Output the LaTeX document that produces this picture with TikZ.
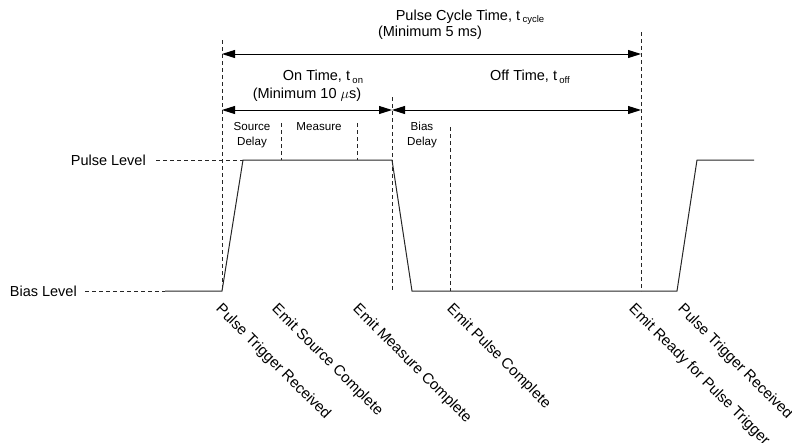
\documentclass[tikz,border=0pt]{standalone}
\usepackage{fontspec}
\setmainfont{Liberation Sans}
\usetikzlibrary{arrows.meta}
\begin{document}
\begin{tikzpicture}[x=1pt,y=-1pt,
 dsh/.style={draw=black!85, line width=0.7pt, dash pattern=on 4pt off 3pt},
 sig/.style={draw=black!85, line width=1pt},
 dimline/.style={draw=black, line width=0.9pt, {Triangle[length=13pt,width=8pt]}-{Triangle[length=13pt,width=8pt]}},
 lbl/.style={font=\fontsize{14.5}{17}\selectfont, inner sep=0pt},
 sm/.style={font=\fontsize{11.6}{15.5}\selectfont, inner sep=0pt, align=center},
 rot/.style={font=\fontsize{15}{17}\selectfont, inner sep=0pt, rotate=-45, anchor=north west}]
\useasboundingbox (0,0) rectangle (792,442);
\newcommand{\mysub}[1]{\,\raisebox{-2.5pt}{\fontsize{9.5}{10}\selectfont #1}}
% titles
\node[lbl] (cyc) at (470,17) {Pulse Cycle Time, t\mysub{cycle}};
\node[lbl] (cycmin) at (430,33) {(Minimum 5 ms)};
\node[lbl] (on) at (323,77) {On Time, t\mysub{on}};
\node[lbl] (onmin) at (307,95) {(Minimum 10 $\mu$s)};
\node[lbl] (off) at (530,77) {Off Time, t\mysub{off}};
\node[sm] (sd) at (252,135) {Source\\Delay};
\node[sm] (ms) at (319,127) {Measure};
\node[sm] (bd) at (422,135) {Bias\\Delay};
% level labels
\node[lbl, anchor=east] (pl) at (146,160) {Pulse Level};
\node[lbl, anchor=east] (bl) at (77,291) {Bias Level};
% coordinates
\coordinate (a1) at (222,40); \coordinate (a2) at (222,291);
\coordinate (b1) at (392,97); \coordinate (b2) at (392,291);
\coordinate (c1) at (641,32); \coordinate (c2) at (641,291);
\coordinate (d1) at (281,123); \coordinate (d2) at (281,160);
\coordinate (e1) at (357,123); \coordinate (e2) at (357,160);
\coordinate (g1) at (450,127); \coordinate (g2) at (450,291);
\coordinate (plx) at (156,160); \coordinate (blx) at (85,291);
\coordinate (s0) at (165,291); \coordinate (r0) at (222,291);
\coordinate (r1) at (243,160); \coordinate (f0) at (392,160);
\coordinate (f1) at (412,291); \coordinate (r2) at (677,291);
\coordinate (r3) at (697,160); \coordinate (en) at (754,160);
% dashed verticals
\draw[dsh] (a1) -- (a2);
\draw[dsh] (b1) -- (b2);
\draw[dsh] (c1) -- (c2);
\draw[dsh] (d1) -- (d2);
\draw[dsh] (e1) -- (e2);
\draw[dsh] (g1) -- (g2);
% level dashes
\draw[dsh] (plx) -- (r1);
\draw[dsh] (blx) -- (s0);
% signal
\draw[sig] (s0) -- (r0) -- (r1) -- (f0) -- (f1) -- (r2) -- (r3) -- (en);
% dimension arrows
\coordinate (m1) at (222,54); \coordinate (m2) at (641,54);
\coordinate (n1) at (222,110); \coordinate (n2) at (392,110); \coordinate (n3) at (641,110);
\draw[dimline] (m1) -- (m2);
\draw[dimline] (n1) -- (n2);
\draw[dimline] (n2) -- (n3);
% rotated labels
\node[rot] (t1) at (223,302) {Pulse Trigger Received};
\node[rot] (t2) at (279,302) {Emit Source Complete};
\node[rot] (t3) at (360,302) {Emit Measure Complete};
\node[rot] (t4) at (454,302) {Emit Pulse Complete};
\node[rot] (t5) at (636,302) {Emit Ready for Pulse Trigger};
\node[rot] (t6) at (685,302) {Pulse Trigger Received};
\end{tikzpicture}
\end{document}
